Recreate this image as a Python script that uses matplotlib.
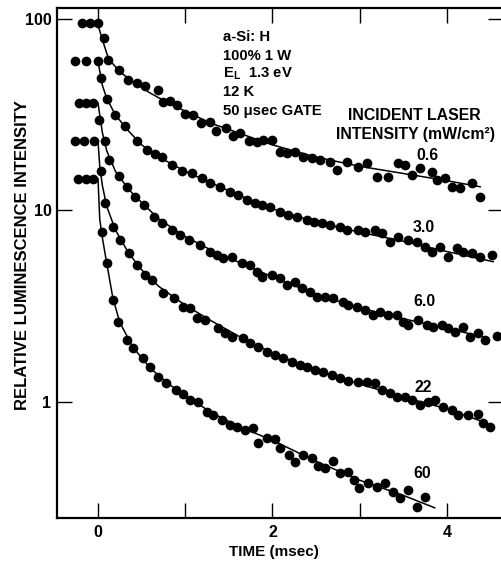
import numpy as np
import matplotlib
matplotlib.use("Agg")
import matplotlib.pyplot as plt

plt.rcParams['font.family'] = ['Liberation Sans', 'DejaVu Sans']
plt.rcParams['font.weight'] = 'bold'
plt.rcParams['mathtext.fontset'] = 'custom'
plt.rcParams['mathtext.rm'] = 'Liberation Sans:bold'
plt.rcParams['mathtext.it'] = 'Liberation Sans:bold'

# measured points (time in msec, relative intensity)
t_06 = [-0.18, -0.09, 0.0, 0.07, 0.12, 0.24, 0.34, 0.45, 0.54, 0.69, 0.74, 0.82, 0.90, 1.0,
        1.09, 1.18, 1.28, 1.35, 1.47, 1.55, 1.63, 1.73, 1.82, 1.89, 1.99, 2.09, 2.17, 2.26,
        2.35, 2.45, 2.54, 2.66, 2.74, 2.85, 2.98, 3.08, 3.20, 3.32, 3.44, 3.52, 3.60, 3.69,
        3.83, 3.89, 3.98, 4.06, 4.15, 4.29, 4.38]
y_06 = [95, 95, 95, 80, 61, 54, 48, 46.5, 44.5, 42.5, 37, 37.5, 35.6, 32,
        31.5, 28.5, 29, 26, 27, 24.5, 25.4, 23, 22.8, 23.3, 23.3, 20.2, 20, 20.2,
        19, 18.8, 18.4, 17.9, 16.3, 17.9, 16.9, 17.7, 15.0, 15.0, 17.7, 17.3, 15.3, 16.7,
        15.9, 14.4, 14.8, 13.3, 13.1, 13.9, 11.8]

t_30 = [-0.26, -0.14, 0.0, 0.03, 0.10, 0.20, 0.31, 0.45, 0.56, 0.65, 0.73, 0.85, 0.96, 1.08,
        1.19, 1.28, 1.40, 1.51, 1.60, 1.71, 1.80, 1.88, 1.97, 2.09, 2.18, 2.28, 2.39, 2.48,
        2.57, 2.66, 2.77, 2.85, 2.98, 3.06, 3.17, 3.26, 3.35, 3.44, 3.55, 3.66, 3.75, 3.83,
        3.92, 4.01, 4.11, 4.18, 4.29, 4.38, 4.52]
y_30 = [60, 60, 60, 49, 38, 31.5, 27.6, 23, 20.7, 19.7, 19, 17.3, 16.1, 15.7,
        14.8, 13.9, 13.3, 12.5, 12.0, 11.3, 10.9, 10.7, 10.4, 9.8, 9.5, 9.25, 8.9, 8.7,
        8.6, 8.4, 8.2, 7.9, 7.9, 7.7, 7.9, 7.6, 6.85, 7.3, 7.0, 6.85, 6.45, 6.07,
        6.45, 5.7, 6.37, 6.07, 6.0, 5.7, 5.86]

t_60 = [-0.22, -0.14, -0.06, 0.01, 0.08, 0.13, 0.24, 0.33, 0.42, 0.53, 0.64, 0.73, 0.85, 0.94,
        1.04, 1.17, 1.28, 1.36, 1.43, 1.54, 1.65, 1.74, 1.82, 1.88, 1.99, 2.09, 2.17, 2.26,
        2.34, 2.43, 2.51, 2.60, 2.69, 2.81, 2.87, 2.97, 3.06, 3.15, 3.23, 3.32, 3.43, 3.50,
        3.55, 3.67, 3.77, 3.84, 3.94, 4.01, 4.09, 4.18, 4.26, 4.36, 4.44, 4.57]
y_60 = [36.4, 36.4, 36.4, 29.7, 23.1, 18.4, 15.1, 13.3, 11.8, 10.7, 9.25, 8.6, 7.9, 7.45,
        7.0, 6.6, 6.07, 5.86, 5.65, 5.72, 5.32, 5.19, 4.77, 4.5, 4.6, 4.44, 4.08, 4.23,
        3.94, 3.75, 3.53, 3.53, 3.49, 3.33, 3.21, 3.13, 3.02, 2.85, 2.95, 2.85, 2.85, 2.62,
        2.52, 2.68, 2.52, 2.46, 2.52, 2.43, 2.32, 2.46, 2.18, 2.29, 2.11, 2.21]

t_22 = [-0.26, -0.16, -0.05, 0.03, 0.08, 0.17, 0.25, 0.35, 0.45, 0.54, 0.62, 0.75, 0.87, 0.97,
        1.06, 1.14, 1.23, 1.38, 1.46, 1.54, 1.66, 1.74, 1.83, 1.94, 2.03, 2.12, 2.22, 2.32,
        2.40, 2.49, 2.58, 2.68, 2.77, 2.87, 2.98, 3.08, 3.17, 3.26, 3.35, 3.43, 3.52, 3.60,
        3.69, 3.78, 3.86, 3.95, 4.06, 4.13, 4.24, 4.36, 4.41, 4.49]
y_22 = [23, 23, 23, 16, 10.9, 8.2, 7.0, 6.0, 5.2, 4.6, 4.34, 3.71, 3.49, 3.13,
        3.10, 2.75, 2.68, 2.43, 2.29, 2.18, 2.16, 2.03, 1.94, 1.82, 1.76, 1.70, 1.62, 1.56,
        1.52, 1.47, 1.43, 1.38, 1.33, 1.29, 1.27, 1.27, 1.26, 1.16, 1.11, 1.06, 1.06, 1.02,
        0.964, 1.0, 1.02, 0.942, 0.908, 0.855, 0.855, 0.866, 0.777, 0.74]

t_600 = [-0.23, -0.14, -0.06, 0.05, 0.10, 0.17, 0.23, 0.33, 0.40, 0.51, 0.60, 0.69, 0.78, 0.89,
         0.97, 1.06, 1.15, 1.25, 1.32, 1.42, 1.51, 1.59, 1.68, 1.78, 1.83, 1.94, 2.03, 2.09,
         2.19, 2.26, 2.35, 2.45, 2.52, 2.60, 2.69, 2.77, 2.87, 2.93, 2.99, 3.09, 3.20, 3.29,
         3.38, 3.46, 3.55, 3.66, 3.75]
y_600 = [14.6, 14.6, 14.6, 7.7, 5.3, 3.41, 2.62, 2.11, 1.91, 1.70, 1.52, 1.35, 1.26, 1.16,
         1.10, 1.02, 1.0, 0.887, 0.855, 0.805, 0.758, 0.74, 0.714, 0.73, 0.61, 0.649, 0.641, 0.575,
         0.529, 0.486, 0.529, 0.510, 0.463, 0.452, 0.492, 0.426, 0.431, 0.392, 0.356, 0.378, 0.36, 0.378,
         0.339, 0.315, 0.347, 0.283, 0.319]

# fitted curves drawn through the points
fit_t_06 = [0, 0.05, 0.12, 0.25, 0.4, 0.6, 0.8, 1.0, 1.3, 1.6, 2.0, 2.5, 3.0, 3.5, 4.0, 4.38]
fit_y_06 = [93, 78, 62, 53, 47, 41, 36.5, 33, 28.5, 25.5, 22, 19, 17, 15.6, 14.3, 13.3]
fit_t_30 = [0, 0.05, 0.1, 0.2, 0.35, 0.5, 0.7, 1.0, 1.3, 1.6, 2.0, 2.5, 3.0, 3.5, 4.0, 4.53]
fit_y_30 = [60, 45, 38.5, 31.5, 26, 22, 19, 16, 13.9, 12.1, 10.2, 8.7, 7.7, 6.9, 6.1, 5.4]
fit_t_60 = [0, 0.05, 0.1, 0.2, 0.35, 0.5, 0.7, 1.0, 1.3, 1.6, 2.0, 2.5, 3.0, 3.5, 4.0, 4.47]
fit_y_60 = [36.4, 25.5, 20.5, 16, 12.9, 11, 9, 7.3, 6.2, 5.4, 4.5, 3.65, 3.1, 2.72, 2.42, 2.16]
fit_t_22 = [0, 0.02, 0.05, 0.1, 0.2, 0.35, 0.5, 0.7, 1.0, 1.3, 1.6, 2.0, 2.5, 3.0, 3.5, 4.0, 4.44]
fit_y_22 = [23, 17, 13.5, 10.5, 7.9, 6.0, 4.9, 4.0, 3.2, 2.65, 2.22, 1.8, 1.46, 1.24, 1.06, 0.92, 0.78]
fit_t_600 = [0, 0.02, 0.05, 0.1, 0.17, 0.25, 0.4, 0.6, 0.8, 1.0, 1.3, 1.6, 2.0, 2.5, 3.0, 3.5, 3.86]
fit_y_600 = [14.6, 9.0, 7.2, 5.3, 3.5, 2.6, 1.93, 1.5, 1.25, 1.08, 0.88, 0.75, 0.63, 0.49, 0.39, 0.325, 0.28]

series_labels = ['0.6', '3.0', '6.0', '22', '60']

fig = plt.figure(figsize=(5.02, 5.62), dpi=100)
ax = fig.add_axes([57 / 502, 1 - 518 / 562, 446 / 502, 510 / 562])

points = [(t_06, y_06), (t_30, y_30), (t_60, y_60), (t_22, y_22), (t_600, y_600)]
fits = [(fit_t_06, fit_y_06), (fit_t_30, fit_y_30), (fit_t_60, fit_y_60),
        (fit_t_22, fit_y_22), (fit_t_600, fit_y_600)]
for (ft, fy), (pt, py) in zip(fits, points):
    ax.plot(ft, fy, color='black', lw=1.1)
    ax.plot(pt, py, 'o', color='black', ms=7.0, mew=0)

ax.set_yscale('log')
ax.set_xlim(-0.47, 4.642)
ax.set_ylim(0.2477, 114.1)

ax.set_xticks([0, 1, 2, 3, 4], labels=['0', '', '2', '', '4'])
ax.set_yticks([1, 10, 100], labels=['1', '10', '100'])
ax.minorticks_off()
ax.tick_params(axis='both', direction='in', length=11, width=1.0, labelsize=11.5,
               top=True, right=True)
ax.tick_params(axis='x', pad=5)
ax.tick_params(axis='y', pad=4)

for s in ['left', 'bottom', 'top']:
    ax.spines[s].set_linewidth(1.6)
ax.spines['right'].set_visible(False)

ax.set_xlabel('TIME (msec)', fontsize=11, fontweight='bold')
ax.xaxis.set_label_coords((274 - 57) / 446, (518 - 545) / 510)
ax.set_ylabel('RELATIVE LUMINESCENCE INTENSITY', fontsize=12, fontweight='bold')
# the y label anchor is the right edge of the rotated text
ax.yaxis.set_label_coords((30 - 57) / 446, (518 - 255) / 510)


def px(x, y):
    # pixel position in the picture -> axes fraction
    return (x - 57) / 446, (518 - y) / 510


info = ['a-Si: H', '100% 1 W', r'E$_{\mathrm{L}}$  1.3 eV', '12 K', '50 μsec GATE']
for i, s in enumerate(info):
    ax.text(*px(223, 37 + 18.5 * i), s, transform=ax.transAxes, fontsize=10.7,
            ha='left', va='center')

ax.text(*px(414, 115), 'INCIDENT LASER', transform=ax.transAxes, fontsize=11.4,
        ha='center', va='center')
ax.text(*px(416, 135), 'INTENSITY (mW/cm²)', transform=ax.transAxes, fontsize=11.4,
        ha='center', va='center')

label_px = [(427, 155), (424, 228), (424, 302), (423, 387), (422, 473)]
for s, (x, y) in zip(series_labels, label_px):
    ax.text(*px(x, y), s, transform=ax.transAxes, fontsize=11.4, ha='center', va='center')

fig.savefig('out.png', dpi=100)
